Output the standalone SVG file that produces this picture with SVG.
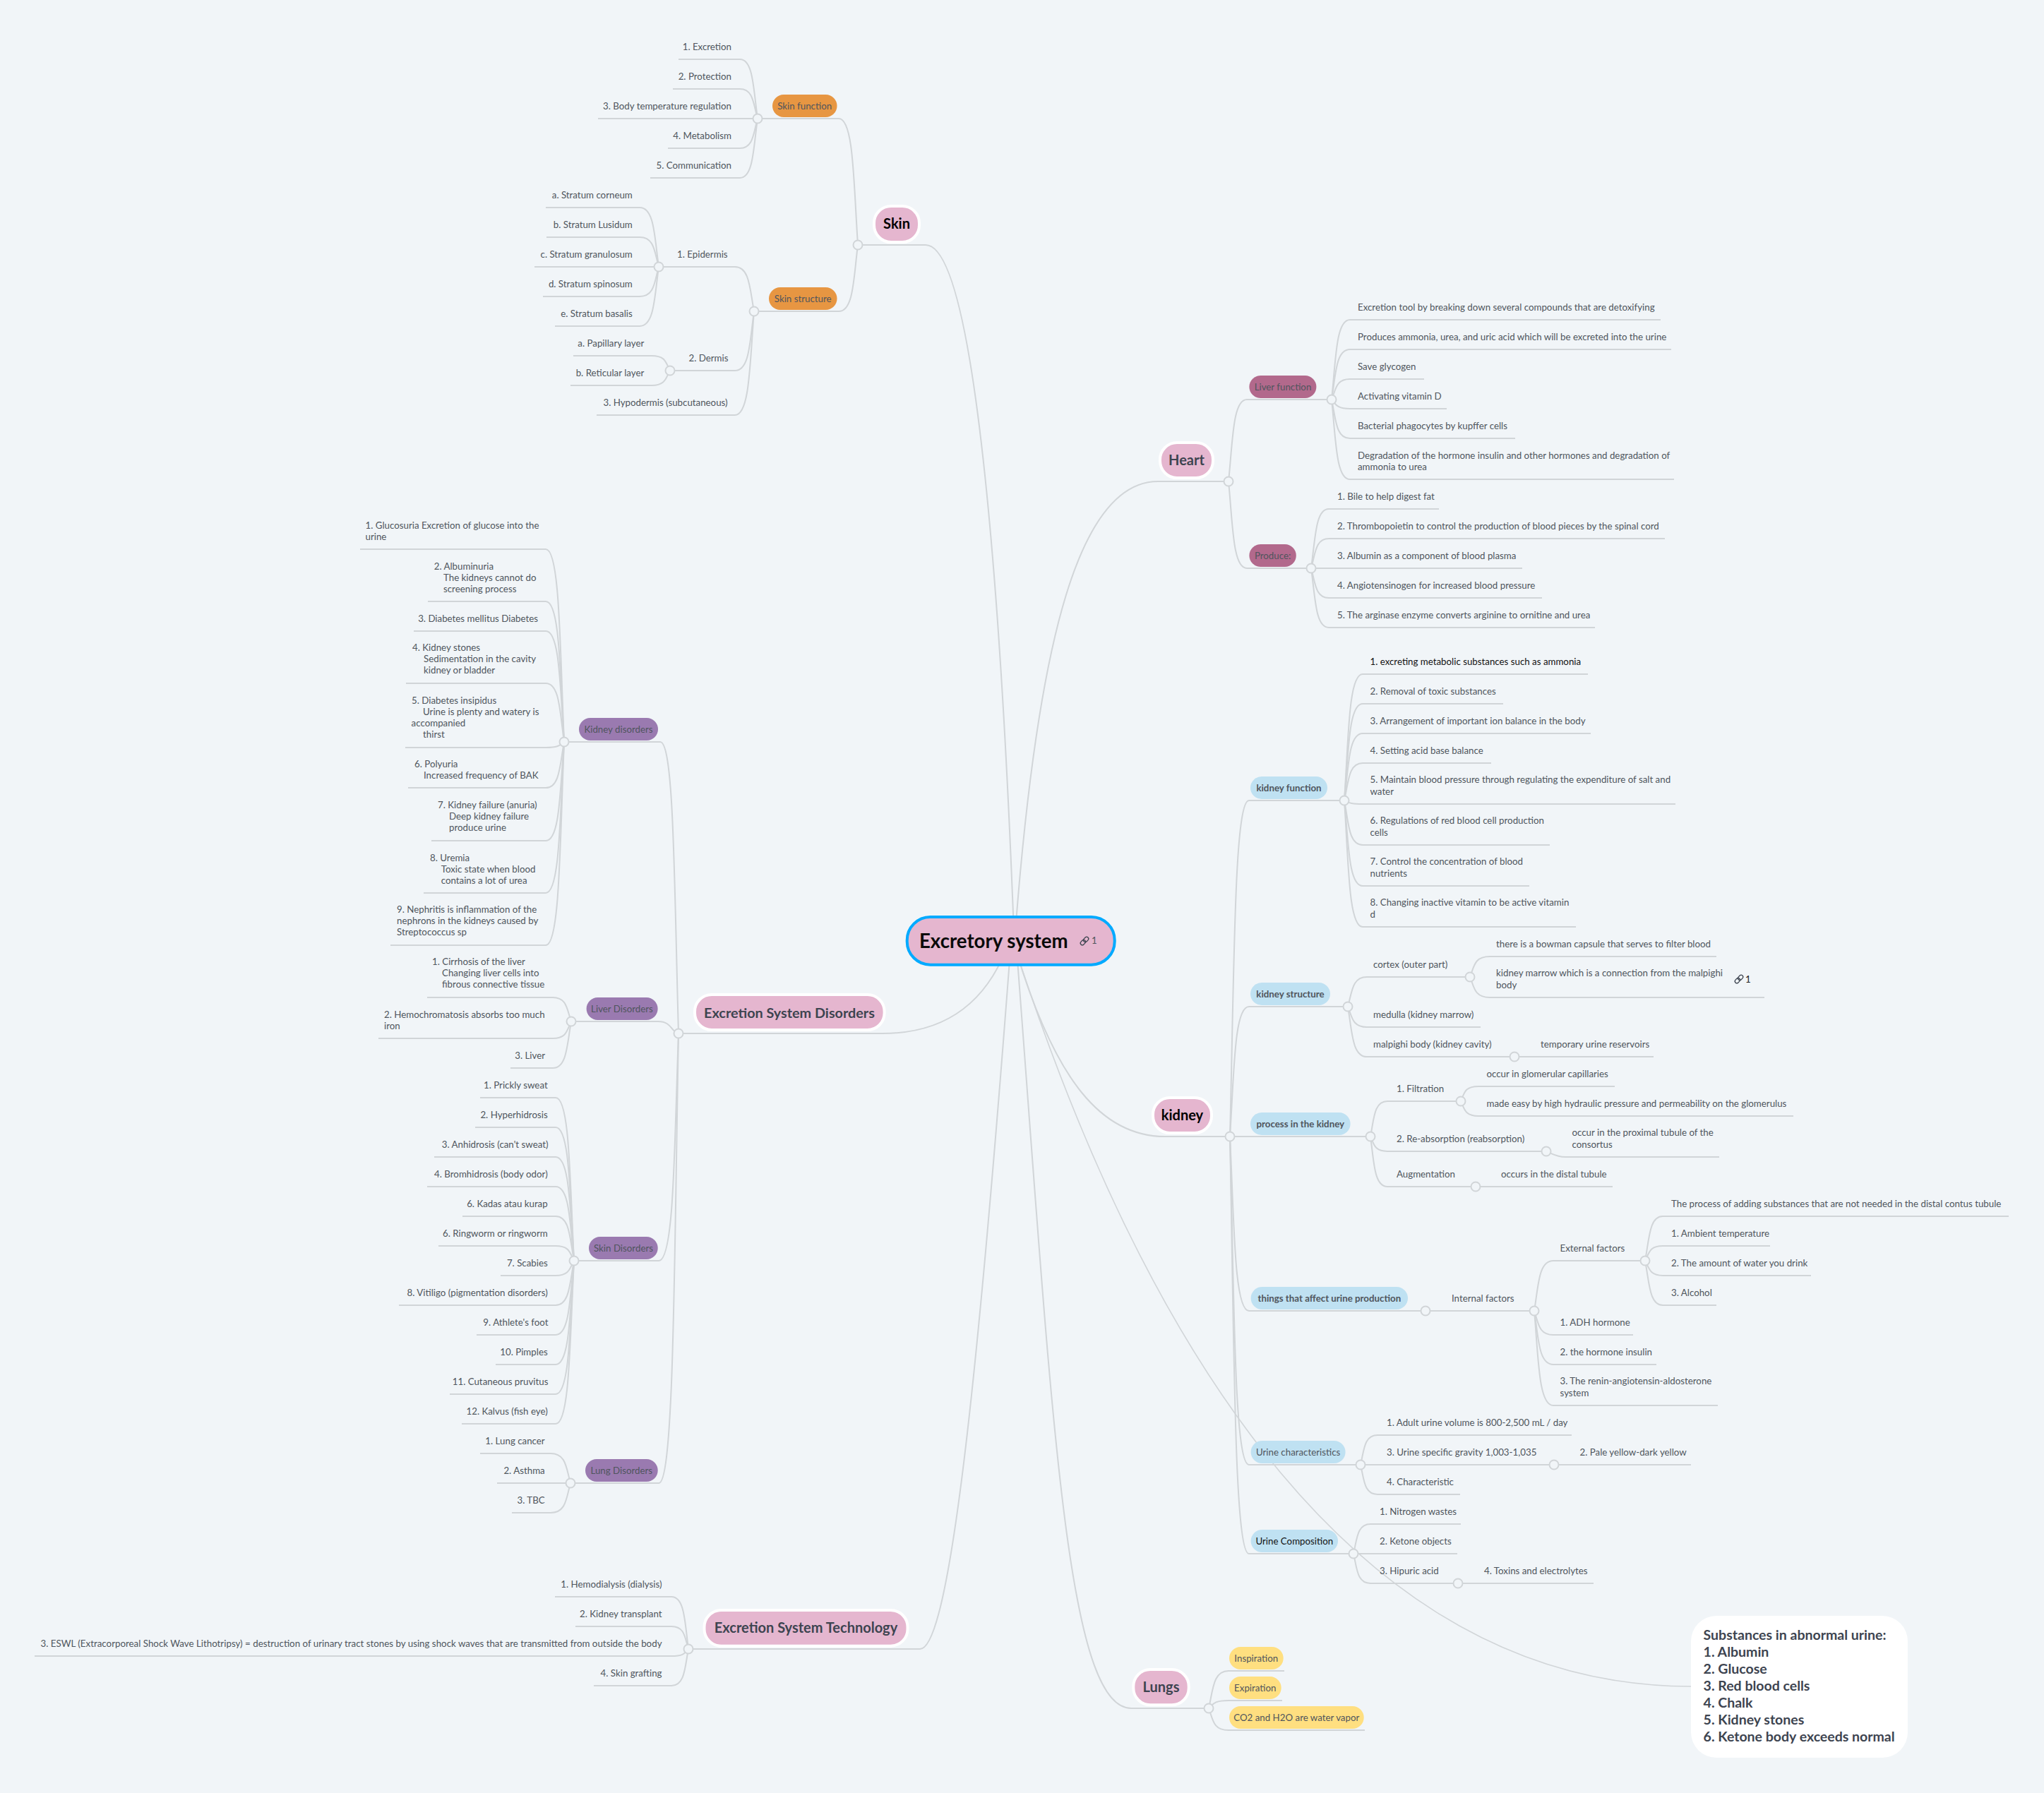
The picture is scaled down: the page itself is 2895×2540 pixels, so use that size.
<svg xmlns="http://www.w3.org/2000/svg" width="2895" height="2540" viewBox="0 0 2895 2540">
<style>
text{font-family:"Lato","Liberation Sans",sans-serif;font-size:13.3px;fill:#4f555d}
.e{text-anchor:end}
.c{text-anchor:middle}
.b{font-weight:700}
.k{fill:#111}
.big{font-size:20px;font-weight:700;text-anchor:middle;fill:#3d4450}
.note{font-size:19.5px;font-weight:700;fill:#3d4450}
#connectors path{fill:none;stroke:#d1d5d8;stroke-width:2}
#connectors circle{fill:#f1f5f8;stroke:#d1d5d8;stroke-width:2;r:6.5px}
.bn{fill:#e5b6cf;stroke:#fff;stroke-width:4}
.or{fill:#e79642}.mg{fill:#b2698c}.pu{fill:#9a7ab0}.bl{fill:#bfe1f2}.ye{fill:#ffdf80}
</style>
<defs>
<g id="lk" fill="none" stroke="#3d4450" stroke-width="1.3"><rect x="-7" y="-2.7" width="8" height="5.4" rx="2.7" transform="rotate(-45)"/><rect x="-1" y="-2.7" width="8" height="5.4" rx="2.7" transform="rotate(-45)"/></g>
</defs>
<rect width="2895" height="2540" fill="#f1f5f8"/>
<g id="connectors">
<path d="M1215 347H1311C1385 347 1420 900 1436 1320"/>
<path d="M1740 682H1640C1530 682 1470 900 1438 1320"/>
<path d="M1742 1610H1650C1560 1610 1495 1530 1440 1350"/>
<path d="M961 1464H1250C1340 1464 1395 1420 1425 1345"/>
<path d="M975 2336H1303C1345 2336 1385 1950 1430 1360"/>
<path d="M1712 2420H1602C1510 2420 1490 2000 1441 1360"/>
<path d="M1440 1350C1630 1930 1930 2389 2395 2389" style="stroke-width:1.6"/>
<path d="M1215 347C1209 257 1209 168 1188 168H1073"/>
<path d="M1215 347C1209 394 1209 441 1188 441H1068"/>
<path d="M1073 168C1067 126 1067 84 1048 84H961"/>
<path d="M1073 168C1067 147 1067 126 1048 126H953"/>
<path d="M1073 168H847"/>
<path d="M1073 168C1067 189 1067 210 1048 210H946"/>
<path d="M1073 168C1067 210 1067 252 1048 252H921"/>
<path d="M1068 441C1062 410 1062 378 1041 378H933"/>
<path d="M1068 441C1062 483 1062 525 1041 525H949"/>
<path d="M1068 441C1062 514 1062 588 1041 588H845"/>
<path d="M933 378C927 336 927 294 906 294H773"/>
<path d="M933 378C927 357 927 336 906 336H774"/>
<path d="M933 378H757"/>
<path d="M933 378C927 399 927 420 906 420H769"/>
<path d="M933 378C927 420 927 462 906 462H786"/>
<path d="M949 525C943 514 943 504 923 504H812"/>
<path d="M949 525C943 535 943 546 923 546H808"/>
<path d="M961 1464C955 1257 955 1051 935 1051H799"/>
<path d="M961 1464C950 1462 952 1447 932 1447H809"/>
<path d="M961 1464C955 1625 955 1786 933 1786H813"/>
<path d="M961 1464C955 1782 955 2101 933 2101H808"/>
<path d="M799 1051C793 915 793 778 773 778H510"/>
<path d="M799 1051C793 951 793 852 773 852H606"/>
<path d="M799 1051C793 972 793 894 773 894H586"/>
<path d="M799 1051C793 1010 793 968 773 968H575"/>
<path d="M799 1051C793 1055 793 1059 773 1059H574"/>
<path d="M799 1051C793 1083 793 1116 773 1116H578"/>
<path d="M799 1051C793 1121 793 1191 773 1191H611"/>
<path d="M799 1051C793 1158 793 1265 773 1265H600"/>
<path d="M799 1051C793 1195 793 1339 773 1339H553"/>
<path d="M809 1447C803 1430 803 1413 783 1413H605"/>
<path d="M809 1447C803 1459 803 1471 783 1471H536"/>
<path d="M809 1447C803 1480 803 1513 783 1513H723"/>
<path d="M813 1786C807 1670 807 1555 787 1555H680"/>
<path d="M813 1786C807 1691 807 1597 787 1597H673"/>
<path d="M813 1786C807 1712 807 1639 787 1639H615"/>
<path d="M813 1786C807 1733 807 1681 787 1681H605"/>
<path d="M813 1786C807 1754 807 1723 787 1723H655"/>
<path d="M813 1786C807 1775 807 1765 787 1765H621"/>
<path d="M813 1786C807 1796 807 1807 787 1807H709"/>
<path d="M813 1786C807 1817 807 1849 787 1849H565"/>
<path d="M813 1786C807 1838 807 1891 787 1891H675"/>
<path d="M813 1786C807 1859 807 1933 787 1933H702"/>
<path d="M813 1786C807 1880 807 1975 787 1975H637"/>
<path d="M813 1786C807 1901 807 2017 787 2017H654"/>
<path d="M808 2101C802 2080 802 2059 780 2059H680"/>
<path d="M808 2101H704"/>
<path d="M808 2101C802 2122 802 2143 780 2143H725"/>
<path d="M975 2336C970 2299 970 2262 951 2262H786"/>
<path d="M975 2336C970 2320 970 2304 951 2304H815"/>
<path d="M975 2336C970 2341 970 2346 951 2346H49"/>
<path d="M975 2336C970 2362 970 2388 951 2388H841"/>
<path d="M1740 682C1746 624 1746 566 1766 566H1886"/>
<path d="M1740 682C1746 743 1746 805 1766 805H1857"/>
<path d="M1886 566C1892 510 1892 453 1912 453H2352"/>
<path d="M1886 566C1892 530 1892 495 1912 495H2367"/>
<path d="M1886 566C1892 552 1892 537 1912 537H2017"/>
<path d="M1886 566C1892 572 1892 579 1912 579H2049"/>
<path d="M1886 566C1892 594 1892 621 1912 621H2146"/>
<path d="M1886 566C1892 622 1892 679 1912 679H2371"/>
<path d="M1857 805C1863 763 1863 721 1882 721H2038"/>
<path d="M1857 805C1863 784 1863 763 1882 763H2358"/>
<path d="M1857 805H2156"/>
<path d="M1857 805C1863 826 1863 847 1882 847H2184"/>
<path d="M1857 805C1863 847 1863 889 1882 889H2259"/>
<path d="M1742 1610C1748 1372 1748 1134 1769 1134H1904"/>
<path d="M1742 1610C1748 1518 1748 1426 1769 1426H1909"/>
<path d="M1742 1610H1941"/>
<path d="M1742 1610C1748 1733 1748 1857 1769 1857H2019"/>
<path d="M1742 1610C1748 1842 1748 2075 1769 2075H1927"/>
<path d="M1742 1610C1748 1905 1748 2201 1769 2201H1917"/>
<path d="M1904 1134C1910 1044 1910 955 1930 955H2249"/>
<path d="M1904 1134C1910 1065 1910 997 1930 997H2129"/>
<path d="M1904 1134C1910 1086 1910 1039 1930 1039H2253"/>
<path d="M1904 1134C1910 1107 1910 1081 1930 1081H2112"/>
<path d="M1904 1134C1910 1136 1910 1139 1930 1139H2373"/>
<path d="M1904 1134C1910 1165 1910 1197 1930 1197H2195"/>
<path d="M1904 1134C1910 1194 1910 1255 1930 1255H2166"/>
<path d="M1904 1134C1910 1223 1910 1313 1930 1313H2232"/>
<path d="M1909 1426C1915 1405 1915 1384 1936 1384H2082"/>
<path d="M1909 1426C1915 1440 1915 1455 1936 1455H2097"/>
<path d="M1909 1426C1915 1461 1915 1497 1936 1497H2342"/>
<path d="M2082 1384C2088 1369 2088 1355 2110 1355H2431"/>
<path d="M2082 1384C2088 1398 2088 1413 2110 1413H2499"/>
<path d="M1941 1610C1946 1585 1946 1560 1965 1560H2069"/>
<path d="M1941 1610C1946 1620 1946 1631 1965 1631H2190"/>
<path d="M1941 1610C1946 1645 1946 1681 1965 1681H2284"/>
<path d="M2069 1560C2074 1549 2074 1539 2094 1539H2287"/>
<path d="M2069 1560C2074 1570 2074 1581 2094 1581H2540"/>
<path d="M2190 1631C2200 1635 2205 1639 2217 1639H2435"/>
<path d="M2019 1857H2173"/>
<path d="M2173 1857C2179 1821 2179 1786 2200 1786H2330"/>
<path d="M2173 1857C2179 1874 2179 1891 2200 1891H2313"/>
<path d="M2173 1857C2179 1895 2179 1933 2200 1933H2346"/>
<path d="M2173 1857C2179 1924 2179 1991 2200 1991H2433"/>
<path d="M2330 1786C2336 1754 2336 1723 2355 1723H2845"/>
<path d="M2330 1786C2336 1775 2336 1765 2355 1765H2507"/>
<path d="M2330 1786C2336 1796 2336 1807 2355 1807H2565"/>
<path d="M2330 1786C2336 1817 2336 1849 2355 1849H2431"/>
<path d="M1927 2075C1932 2054 1932 2033 1951 2033H2226"/>
<path d="M1927 2075H2395"/>
<path d="M1927 2075C1932 2096 1932 2117 1951 2117H2068"/>
<path d="M1917 2201C1922 2180 1922 2159 1941 2159H2069"/>
<path d="M1917 2201H2064"/>
<path d="M1917 2201C1922 2222 1922 2243 1941 2243H2257"/>
<path d="M1712 2420C1718 2394 1718 2367 1740 2367H1819"/>
<path d="M1712 2420C1718 2415 1718 2409 1740 2409H1816"/>
<path d="M1712 2420C1718 2436 1718 2451 1740 2451H1933"/>
<circle cx="1215" cy="347" r="6"/><circle cx="1073" cy="168" r="6"/><circle cx="1068" cy="441" r="6"/><circle cx="933" cy="378" r="6"/><circle cx="949" cy="525" r="6"/>
<circle cx="961" cy="1464" r="6"/><circle cx="799" cy="1051" r="6"/><circle cx="809" cy="1447" r="6"/><circle cx="813" cy="1786" r="6"/><circle cx="808" cy="2101" r="6"/><circle cx="975" cy="2336" r="6"/>
<circle cx="1740" cy="682" r="6"/><circle cx="1886" cy="566" r="6"/><circle cx="1857" cy="805" r="6"/>
<circle cx="1742" cy="1610" r="6"/><circle cx="1904" cy="1134" r="6"/><circle cx="1909" cy="1426" r="6"/><circle cx="2082" cy="1384" r="6"/><circle cx="2145" cy="1497" r="6"/>
<circle cx="1941" cy="1610" r="6"/><circle cx="2069" cy="1560" r="6"/><circle cx="2190" cy="1631" r="6"/><circle cx="2090" cy="1681" r="6"/>
<circle cx="2019" cy="1857" r="6"/><circle cx="2173" cy="1857" r="6"/><circle cx="2330" cy="1786" r="6"/><circle cx="1927" cy="2075" r="6"/><circle cx="2201" cy="2075" r="6"/><circle cx="1917" cy="2201" r="6"/><circle cx="2065" cy="2243" r="6"/><circle cx="1712" cy="2420" r="6"/>
</g>

<g id="root"><rect x="1284.7" y="1299" width="294" height="67.7" rx="33" fill="#e5b6cf" stroke="#00aaff" stroke-width="4"/><text x="1302" y="1343" class="b" style="font-size:27.6px;fill:#0a0a0a">Excretory system</text><use href="#lk" x="1536" y="1333"/><text x="1546" y="1337">1</text></g>

<g id="skin"><rect class="bn" x="1238" y="292" width="64" height="51" rx="24"/><text class="big" x="1270" y="324" style="fill:#000">Skin</text></g>
<g id="heart"><rect class="bn" x="1643" y="627" width="75" height="50" rx="24"/><text class="big" x="1680.5" y="659">Heart</text></g>
<g id="kidney"><rect class="bn" x="1633" y="1555" width="83" height="50" rx="24"/><text class="big" x="1674.5" y="1587" style="fill:#000">kidney</text></g>
<g id="esd"><rect class="bn" x="984" y="1409" width="268.6" height="50" rx="24"/><text class="big" x="1118" y="1441.5" style="font-size:19.8px">Excretion System Disorders</text></g>
<g id="est"><rect class="bn" x="997.5" y="2281" width="288" height="50.7" rx="24"/><text class="big" x="1141.5" y="2313">Excretion System Technology</text></g>
<g id="lungs"><rect class="bn" x="1605.3" y="2365" width="78.4" height="50.3" rx="24"/><text class="big" x="1644.5" y="2397">Lungs</text></g>

<g id="sf"><rect class="or" x="1094" y="134" width="91.5" height="32" rx="16"/><text class="c" x="1139.7" y="154.5">Skin function</text></g>
<g id="ss"><rect class="or" x="1089" y="407" width="96.5" height="32" rx="16"/><text class="c" x="1137.2" y="427.5">Skin structure</text></g>
<g id="lf"><rect class="mg" x="1769.4" y="532" width="95" height="32" rx="16"/><text class="c" x="1817" y="552.5">Liver function</text></g>
<g id="pr"><rect class="mg" x="1769.4" y="771" width="66.4" height="32" rx="16"/><text class="c" x="1802.6" y="791.5">Produce:</text></g>
<g id="kd"><rect class="pu" x="820" y="1017" width="112" height="32" rx="16"/><text class="c" x="876" y="1037.5">Kidney disorders</text></g>
<g id="ld"><rect class="pu" x="830.6" y="1413" width="101" height="32" rx="16"/><text class="c" x="881" y="1433.5">Liver Disorders</text></g>
<g id="sd"><rect class="pu" x="834" y="1752" width="97.7" height="32" rx="16"/><text class="c" x="883" y="1772.5">Skin Disorders</text></g>
<g id="lud"><rect class="pu" x="829" y="2067" width="102.7" height="32" rx="16"/><text class="c" x="880.3" y="2087.5">Lung Disorders</text></g>
<g id="kf"><rect class="bl" x="1771" y="1100" width="109" height="32" rx="16"/><text class="c b" x="1825.5" y="1120.5">kidney function</text></g>
<g id="ks"><rect class="bl" x="1771" y="1392" width="113" height="32" rx="16"/><text class="c b" x="1827.5" y="1412.5">kidney structure</text></g>
<g id="pk"><rect class="bl" x="1771" y="1576" width="141.6" height="32" rx="16"/><text class="c b" x="1841.8" y="1596.5">process in the kidney</text></g>
<g id="th"><rect class="bl" x="1771.6" y="1823" width="222.4" height="32" rx="16"/><text class="c b" x="1882.8" y="1843.5">things that affect urine production</text></g>
<g id="uc"><rect class="bl" x="1771.6" y="2041" width="134" height="32" rx="16"/><text class="c" x="1838.6" y="2061.5">Urine characteristics</text></g>
<g id="uco"><rect class="bl" x="1771.6" y="2167" width="123.4" height="32" rx="16"/><text class="c k" x="1833.3" y="2187.5">Urine Composition</text></g>
<g id="li"><rect class="ye" x="1741" y="2333" width="76.7" height="32" rx="16"/><text class="c" x="1779.3" y="2353.5">Inspiration</text></g>
<g id="le"><rect class="ye" x="1741" y="2375" width="73.7" height="32" rx="16"/><text class="c" x="1777.8" y="2395.5">Expiration</text></g>
<g id="lc"><rect class="ye" x="1741" y="2417" width="190.7" height="32" rx="16"/><text class="c" x="1836.3" y="2437.5">CO2 and H2O are water vapor</text></g>

<g id="note"><rect x="2395" y="2289" width="307" height="201" rx="36" fill="#fff"/><text class="note"><tspan x="2412.6" y="2323">Substances in abnormal urine:</tspan><tspan x="2412.6" y="2347">1. Albumin</tspan><tspan x="2412.6" y="2371">2. Glucose</tspan><tspan x="2412.6" y="2395">3. Red blood cells</tspan><tspan x="2412.6" y="2419">4. Chalk</tspan><tspan x="2412.6" y="2443">5. Kidney stones</tspan><tspan x="2412.6" y="2467">6. Ketone body exceeds normal</tspan></text></g>

<g id="skin-leaves">
<g id="a1"><text class="e" x="1036" y="70.5">1. Excretion</text></g>
<g id="a2"><text class="e" x="1036" y="112.5">2. Protection</text></g>
<g id="a3"><text class="e" x="1036" y="154.5">3. Body temperature regulation</text></g>
<g id="a4"><text class="e" x="1036" y="196.5">4. Metabolism</text></g>
<g id="a5"><text class="e" x="1036" y="238.5">5. Communication</text></g>
<g id="a6"><text class="e" x="1030.6" y="364.5">1. Epidermis</text></g>
<g id="a7"><text class="e" x="895.8" y="280.5">a. Stratum corneum</text></g>
<g id="a8"><text class="e" x="895.8" y="322.5">b. Stratum Lusidum</text></g>
<g id="a9"><text class="e" x="895.8" y="364.5">c. Stratum granulosum</text></g>
<g id="a10"><text class="e" x="895.8" y="406.5">d. Stratum spinosum</text></g>
<g id="a11"><text class="e" x="895.8" y="448.5">e. Stratum basalis</text></g>
<g id="a12"><text class="e" x="1031.5" y="511.5">2. Dermis</text></g>
<g id="a13"><text class="e" x="912.3" y="490.5">a. Papillary layer</text></g>
<g id="a14"><text class="e" x="912.3" y="532.5">b. Reticular layer</text></g>
<g id="a15"><text class="e" x="1030.6" y="574.5">3. Hypodermis (subcutaneous)</text></g>
</g>

<g id="kd1"><text><tspan x="517.5" y="749">1. Glucosuria Excretion of glucose into the</tspan><tspan x="517.5" y="765">urine</tspan></text></g>
<g id="kd2"><text><tspan x="614.7" y="806.5">2. Albuminuria</tspan><tspan x="628" y="822.5">The kidneys cannot do</tspan><tspan x="628" y="838.5">screening process</tspan></text></g>
<g id="kd3"><text class="e" x="762" y="880.5">3. Diabetes mellitus Diabetes</text></g>
<g id="kd4"><text><tspan x="584" y="922">4. Kidney stones</tspan><tspan x="600" y="938">Sedimentation in the cavity</tspan><tspan x="600" y="954.3">kidney or bladder</tspan></text></g>
<g id="kd5"><text><tspan x="583" y="997">5. Diabetes insipidus</tspan><tspan x="599" y="1013">Urine is plenty and watery is</tspan><tspan x="582.6" y="1029">accompanied</tspan><tspan x="599" y="1045.3">thirst</tspan></text></g>
<g id="kd6"><text><tspan x="587" y="1086.5">6. Polyuria</tspan><tspan x="600" y="1102.5">Increased frequency of BAK</tspan></text></g>
<g id="kd7"><text><tspan x="620" y="1145">7. Kidney failure (anuria)</tspan><tspan x="636" y="1161">Deep kidney failure</tspan><tspan x="636" y="1177">produce urine</tspan></text></g>
<g id="kd8"><text><tspan x="609" y="1219.5">8. Uremia</tspan><tspan x="624.7" y="1235.5">Toxic state when blood</tspan><tspan x="624.7" y="1251.5">contains a lot of urea</tspan></text></g>
<g id="kd9"><text><tspan x="562" y="1293">9. Nephritis is inflammation of the</tspan><tspan x="562" y="1309">nephrons in the kidneys caused by</tspan><tspan x="562" y="1325">Streptococcus sp</tspan></text></g>

<g id="ld1"><text><tspan x="612" y="1367">1. Cirrhosis of the liver</tspan><tspan x="626" y="1383">Changing liver cells into</tspan><tspan x="626" y="1399">fibrous connective tissue</tspan></text></g>
<g id="ld2"><text><tspan x="544" y="1441.5">2. Hemochromatosis absorbs too much</tspan><tspan x="544" y="1457.5">iron</tspan></text></g>
<g id="ld3"><text class="e" x="772" y="1499.5">3. Liver</text></g>

<g id="sd1"><text class="e" x="775.7" y="1541.5">1. Prickly sweat</text></g>
<g id="sd2"><text class="e" x="775.7" y="1583.5">2. Hyperhidrosis</text></g>
<g id="sd3"><text class="e" x="776.5" y="1625.5">3. Anhidrosis (can't sweat)</text></g>
<g id="sd4"><text class="e" x="775.7" y="1667.5">4. Bromhidrosis (body odor)</text></g>
<g id="sd5"><text class="e" x="775.7" y="1709.5">6. Kadas atau kurap</text></g>
<g id="sd6"><text class="e" x="775.7" y="1751.5">6. Ringworm or ringworm</text></g>
<g id="sd7"><text class="e" x="775.7" y="1793.5">7. Scabies</text></g>
<g id="sd8"><text class="e" x="775.7" y="1835.5">8. Vitiligo (pigmentation disorders)</text></g>
<g id="sd9"><text class="e" x="776.5" y="1877.5">9. Athlete's foot</text></g>
<g id="sd10"><text class="e" x="775.7" y="1919.5">10. Pimples</text></g>
<g id="sd11"><text class="e" x="776.5" y="1961.5">11. Cutaneous pruvitus</text></g>
<g id="sd12"><text class="e" x="775.7" y="2003.5">12. Kalvus (fish eye)</text></g>
<g id="lu1"><text class="e" x="771.7" y="2045.5">1. Lung cancer</text></g>
<g id="lu2"><text class="e" x="771.7" y="2087.5">2. Asthma</text></g>
<g id="lu3"><text class="e" x="771.7" y="2129.5">3. TBC</text></g>

<g id="t1"><text class="e" x="937.5" y="2248.5">1. Hemodialysis (dialysis)</text></g>
<g id="t2"><text class="e" x="937.5" y="2290.5">2. Kidney transplant</text></g>
<g id="t3"><text class="e" x="937.5" y="2332.5" textLength="880" lengthAdjust="spacingAndGlyphs">3. ESWL (Extracorporeal Shock Wave Lithotripsy) = destruction of urinary tract stones by using shock waves that are transmitted from outside the body</text></g>
<g id="t4"><text class="e" x="937.5" y="2374.5">4. Skin grafting</text></g>

<g id="h1"><text x="1923" y="439.5">Excretion tool by breaking down several compounds that are detoxifying</text></g>
<g id="h2"><text x="1923" y="481.5">Produces ammonia, urea, and uric acid which will be excreted into the urine</text></g>
<g id="h3"><text x="1923" y="523.5">Save glycogen</text></g>
<g id="h4"><text x="1923" y="565.5">Activating vitamin D</text></g>
<g id="h5"><text x="1923" y="607.5">Bacterial phagocytes by kupffer cells</text></g>
<g id="h6"><text><tspan x="1923" y="649.5">Degradation of the hormone insulin and other hormones and degradation of</tspan><tspan x="1923" y="665.5">ammonia to urea</tspan></text></g>
<g id="p1"><text x="1894" y="707.5">1. Bile to help digest fat</text></g>
<g id="p2"><text x="1894" y="749.5">2. Thrombopoietin to control the production of blood pieces by the spinal cord</text></g>
<g id="p3"><text x="1894" y="791.5">3. Albumin as a component of blood plasma</text></g>
<g id="p4"><text x="1894" y="833.5">4. Angiotensinogen for increased blood pressure</text></g>
<g id="p5"><text x="1894" y="875.5">5. The arginase enzyme converts arginine to ornitine and urea</text></g>

<g id="kf1"><text class="k" x="1940.5" y="941.5">1. excreting metabolic substances such as ammonia</text></g>
<g id="kf2"><text x="1940.5" y="983.5">2. Removal of toxic substances</text></g>
<g id="kf3"><text x="1940.5" y="1025.5">3. Arrangement of important ion balance in the body</text></g>
<g id="kf4"><text x="1940.5" y="1067.5">4. Setting acid base balance</text></g>
<g id="kf5"><text><tspan x="1940.5" y="1109">5. Maintain blood pressure through regulating the expenditure of salt and</tspan><tspan x="1940.5" y="1125.5">water</tspan></text></g>
<g id="kf6"><text><tspan x="1940.5" y="1167">6. Regulations of red blood cell production</tspan><tspan x="1940.5" y="1183.5">cells</tspan></text></g>
<g id="kf7"><text><tspan x="1940.5" y="1225">7. Control the concentration of blood</tspan><tspan x="1940.5" y="1241.5">nutrients</tspan></text></g>
<g id="kf8"><text><tspan x="1940.5" y="1283">8. Changing inactive vitamin to be active vitamin</tspan><tspan x="1940.5" y="1299.5">d</tspan></text></g>

<g id="ks1"><text x="1945" y="1370.5">cortex (outer part)</text></g>
<g id="ks2"><text x="2119" y="1341.5">there is a bowman capsule that serves to filter blood</text></g>
<g id="ks3"><text><tspan x="2119" y="1383">kidney marrow which is a connection from the malpighi</tspan><tspan x="2119" y="1399.5">body</tspan></text><use href="#lk" x="2463" y="1387"/><text x="2472" y="1391.5" style="fill:#222">1</text></g>
<g id="ks4"><text x="1945" y="1441.5">medulla (kidney marrow)</text></g>
<g id="ks5"><text x="1945" y="1483.5">malpighi body (kidney cavity)</text></g>
<g id="ks6"><text x="2182" y="1483.5">temporary urine reservoirs</text></g>

<g id="pk1"><text x="1978" y="1546.5">1. Filtration</text></g>
<g id="pk2"><text x="2105.5" y="1525.5">occur in glomerular capillaries</text></g>
<g id="pk3"><text x="2105.5" y="1567.5">made easy by high hydraulic pressure and permeability on the glomerulus</text></g>
<g id="pk4"><text x="1978" y="1617.5">2. Re-absorption (reabsorption)</text></g>
<g id="pk5"><text><tspan x="2226.5" y="1609">occur in the proximal tubule of the</tspan><tspan x="2226.5" y="1625.5">consortus</tspan></text></g>
<g id="pk6"><text x="1978" y="1667.5">Augmentation</text></g>
<g id="pk7"><text x="2126" y="1667.5">occurs in the distal tubule</text></g>

<g id="th1"><text x="2056" y="1843.5">Internal factors</text></g>
<g id="th2"><text x="2209.5" y="1772.5">External factors</text></g>
<g id="th3"><text x="2367" y="1709.5">The process of adding substances that are not needed in the distal contus tubule</text></g>
<g id="th4"><text x="2367" y="1751.5">1. Ambient temperature</text></g>
<g id="th5"><text x="2367" y="1793.5">2. The amount of water you drink</text></g>
<g id="th6"><text x="2367" y="1835.5">3. Alcohol</text></g>
<g id="th7"><text x="2209.5" y="1877.5">1. ADH hormone</text></g>
<g id="th8"><text x="2209.5" y="1919.5">2. the hormone insulin</text></g>
<g id="th9"><text><tspan x="2209.5" y="1961">3. The renin-angiotensin-aldosterone</tspan><tspan x="2209.5" y="1977.5">system</tspan></text></g>

<g id="uc1"><text x="1964" y="2019.5">1. Adult urine volume is 800-2,500 mL / day</text></g>
<g id="uc2"><text x="1964" y="2061.5">3. Urine specific gravity 1,003-1,035</text></g>
<g id="uc3"><text x="2237.5" y="2061.5">2. Pale yellow-dark yellow</text></g>
<g id="uc4"><text x="1964" y="2103.5">4. Characteristic</text></g>
<g id="uo1"><text x="1954" y="2145.5">1. Nitrogen wastes</text></g>
<g id="uo2"><text x="1954" y="2187.5">2. Ketone objects</text></g>
<g id="uo3"><text x="1954" y="2229.5">3. Hipuric acid</text></g>
<g id="uo4"><text x="2102" y="2229.5">4. Toxins and electrolytes</text></g>
</svg>
